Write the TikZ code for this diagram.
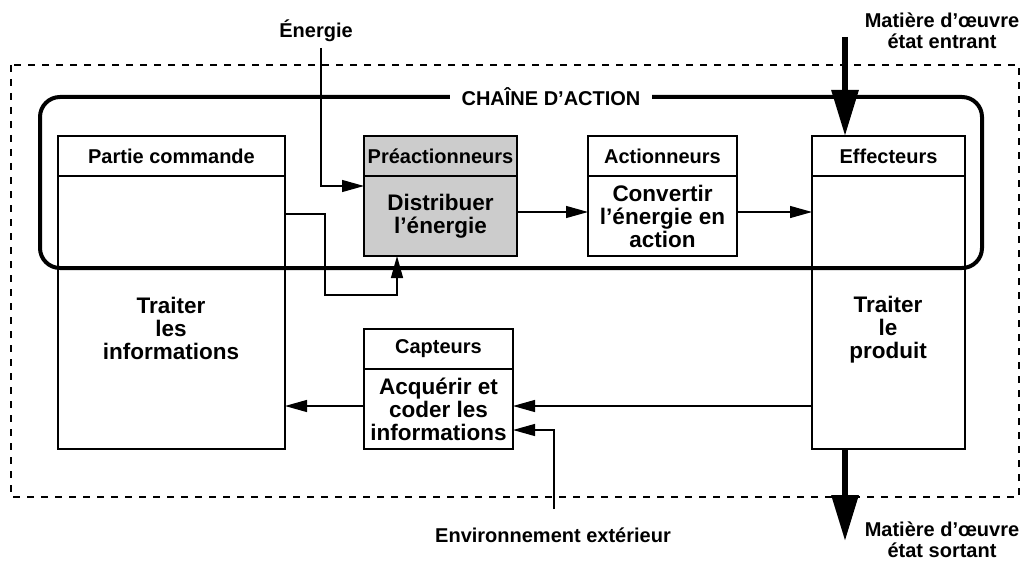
\documentclass[tikz,border=0pt]{standalone}
\usepackage{fontspec}
\setmainfont{Liberation Sans}
\usetikzlibrary{arrows.meta}
\begin{document}
\begin{tikzpicture}[x=1pt,y=-1pt,
  every node/.style={font=\bfseries\fontsize{20}{21}\selectfont, inner sep=0pt, outer sep=0pt},
  boxnode/.style={draw, line width=1.4pt, anchor=north west},
  big/.style={font=\bfseries\fontsize{22.5}{23}\selectfont, align=center},
  lbl/.style={align=center},
  arr/.style={line width=1.2pt, -{Triangle[length=22pt,width=12pt]}},
  fat/.style={line width=6pt, -{Triangle[length=46pt,width=26pt]}},
  frame/.style={line width=1.4pt, dash pattern=on 7pt off 7pt},
  chain/.style={line width=4pt, rounded corners=20pt},
]
\useasboundingbox (0,0) rectangle (1024,564);
% outer dashed frame
\draw[frame] (11,65) rectangle (1019,497);
% chain of action
\draw[chain] (40,97) rectangle (982,268);
\node[fill=white, inner xsep=12pt, inner ysep=4pt] (ch) at (551,97) {CHAÎNE D’ACTION};

% Partie commande
\node[boxnode, minimum width=227pt, minimum height=40pt] (pch) at (58,136) {Partie commande};
\node[boxnode, minimum width=227pt, minimum height=273pt] (pcb) at (58,176) {};
\node[big] (pct) at (171,328) {Traiter\\les\\informations};

% Preactionneurs
\node[boxnode, fill=gray!40, minimum width=153pt, minimum height=40pt] (prh) at (364,136) {Préactionneurs};
\node[boxnode, fill=gray!40, big, minimum width=153pt, minimum height=80pt] (prb) at (364,176) {Distribuer\\l’énergie};

% Actionneurs
\node[boxnode, minimum width=149pt, minimum height=40pt] (ach) at (588,136) {Actionneurs};
\node[boxnode, big, minimum width=149pt, minimum height=80pt] (acb) at (588,176) {Convertir\\l’énergie en\\action};

% Effecteurs
\node[boxnode, minimum width=153pt, minimum height=40pt] (efh) at (812,136) {Effecteurs};
\node[boxnode, minimum width=153pt, minimum height=273pt] (efb) at (812,176) {};
\node[big] (eft) at (888,330) {Traiter\\le\\produit};

% Capteurs
\node[boxnode, minimum width=149pt, minimum height=40pt] (cph) at (364,329) {Capteurs};
\node[boxnode, big, minimum width=149pt, minimum height=80pt] (cpb) at (364,369) {Acquérir et\\coder les\\informations};

% external labels
\node (en) at (316,31) {Énergie};
\node[lbl] (me) at (942,31) {Matière d’œuvre\\état entrant};
\node[lbl] (ms) at (942,540) {Matière d’œuvre\\état sortant};
\node (env) at (553,535) {Environnement extérieur};

\coordinate (e0) at (321,48);
\coordinate (m0) at (845,37);
\coordinate (m1) at (845,541);
\coordinate (v0) at (554,509);

% connectors
\draw[arr] (e0) |- (prb.west |- 0,186);
\draw[arr] (pcb.east |- 0,214) -| (325,295) -| (prb.south -| 397,0);
\draw[arr] (prb.east |- 0,212) -- (acb.west |- 0,212);
\draw[arr] (acb.east |- 0,212) -- (efb.west |- 0,212);
\draw[arr] (efb.west |- 0,406) -- (cpb.east |- 0,406);
\draw[arr] (cpb.west |- 0,406) -- (pcb.east |- 0,406);
\draw[arr] (v0) |- (cpb.east |- 0,430);
\draw[fat] (m0) -- (efh.north -| m0);
\draw[fat] (efb.south -| m1) -- (m1);
\end{tikzpicture}
\end{document}
